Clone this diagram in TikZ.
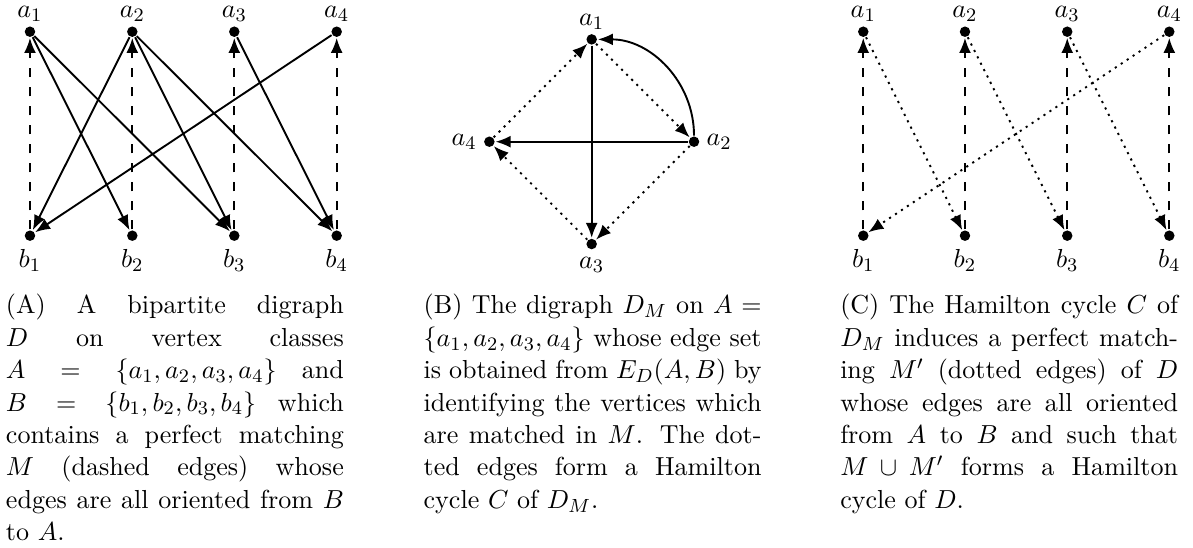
\documentclass[tikz,border=0pt,11pt]{standalone}
\usetikzlibrary{arrows.meta}
\begin{document}
\begin{tikzpicture}[x=1.0297cm,y=1.0297cm,thick,
  >={Latex[length=6.3pt,width=5pt]},
  vtx/.style={circle,fill,inner sep=0pt,minimum size=4.4pt},
  every label/.style={inner sep=1.3pt},
  matched/.style={->,dash pattern=on 4pt off 4pt},
  cyc/.style={->,dash pattern=on 0.9pt off 2.1pt},
  capt/.style={anchor=base west,text width=142pt,align=justify,inner sep=0pt}]
\useasboundingbox (0,0) rectangle (17.114,7.861);

\node[vtx,label=above:$a_1$] (a1) at (0.430,7.406) {};
\node[vtx,label=above:$a_2$] (a2) at (1.898,7.406) {};
\node[vtx,label=above:$a_3$] (a3) at (3.361,7.406) {};
\node[vtx,label=above:$a_4$] (a4) at (4.830,7.406) {};
\node[vtx,label={[label distance=1.4pt]below:$b_1$}] (b1) at (0.430,4.480) {};
\node[vtx,label={[label distance=1.4pt]below:$b_2$}] (b2) at (1.898,4.480) {};
\node[vtx,label={[label distance=1.4pt]below:$b_3$}] (b3) at (3.361,4.480) {};
\node[vtx,label={[label distance=1.4pt]below:$b_4$}] (b4) at (4.830,4.480) {};

\draw[matched] (b1) -- (a1);
\draw[matched] (b2) -- (a2);
\draw[matched] (b3) -- (a3);
\draw[matched] (b4) -- (a4);
\draw[->] (a1) -- (b2);
\draw[->] (a1) -- (b3);
\draw[->] (a2) -- (b1);
\draw[->] (a2) -- (b3);
\draw[->] (a2) -- (b4);
\draw[->] (a3) -- (b4);
\draw[->] (a4) -- (b1);

\node[vtx,label=above:$a_1$] (m1) at (8.488,7.296) {};
\node[vtx,label={[label distance=1pt]right:$a_2$}] (m2) at (9.956,5.828) {};
\node[vtx,label={[label distance=1.4pt]below:$a_3$}] (m3) at (8.488,4.360) {};
\node[vtx,label={[label distance=1pt]left:$a_4$}] (m4) at (7.020,5.828) {};

\draw[->] (m1) -- (m3);
\draw[->] (m2) -- (m4);
\draw[->] (m2) to[out=90,in=0] (m1);
\draw[cyc] (m1) -- (m2);
\draw[cyc] (m2) -- (m3);
\draw[cyc] (m3) -- (m4);
\draw[cyc] (m4) -- (m1);

\node[vtx,label=above:$a_1$] (ha1) at (12.384,7.406) {};
\node[vtx,label=above:$a_2$] (ha2) at (13.843,7.406) {};
\node[vtx,label=above:$a_3$] (ha3) at (15.310,7.406) {};
\node[vtx,label=above:$a_4$] (ha4) at (16.774,7.406) {};
\node[vtx,label={[label distance=1.4pt]below:$b_1$}] (hb1) at (12.384,4.480) {};
\node[vtx,label={[label distance=1.4pt]below:$b_2$}] (hb2) at (13.843,4.480) {};
\node[vtx,label={[label distance=1.4pt]below:$b_3$}] (hb3) at (15.310,4.480) {};
\node[vtx,label={[label distance=1.4pt]below:$b_4$}] (hb4) at (16.774,4.480) {};

\draw[matched] (hb1) -- (ha1);
\draw[matched] (hb2) -- (ha2);
\draw[matched] (hb3) -- (ha3);
\draw[matched] (hb4) -- (ha4);
\draw[cyc] (ha1) -- (hb2);
\draw[cyc] (ha2) -- (hb3);
\draw[cyc] (ha3) -- (hb4);
\draw[cyc] (ha4) -- (hb1);

\node[capt] (captA) at (0.072,3.357) {(A) A bipartite digraph\linebreak $D$ on vertex classes\linebreak $A=\{a_1,a_2,a_3,a_4\}$ and\linebreak $B=\{b_1,b_2,b_3,b_4\}$ which\linebreak contains a perfect matching\linebreak $M$ (dashed edges) whose\linebreak edges are all oriented from $B$\linebreak to $A$.};
\node[capt] (captB) at (6.064,3.357) {(B) The digraph $D_M$ on $A=$\linebreak $\{a_1,a_2,a_3,a_4\}$ whose edge set\linebreak is obtained from $E_D(A,B)$ by\linebreak identifying the vertices which\linebreak are matched in $M$. The dot-\linebreak ted edges form a Hamilton\linebreak cycle $C$ of $D_M$.};
\node[capt] (captC) at (12.040,3.357) {(C) The Hamilton cycle $C$ of\linebreak $D_M$ induces a perfect match-\linebreak ing $M'$ (dotted edges) of $D$\linebreak whose edges are all oriented\linebreak from $A$ to $B$ and such that\linebreak $M\cup M'$ forms a Hamilton\linebreak cycle of $D$.};
\end{tikzpicture}
\end{document}
